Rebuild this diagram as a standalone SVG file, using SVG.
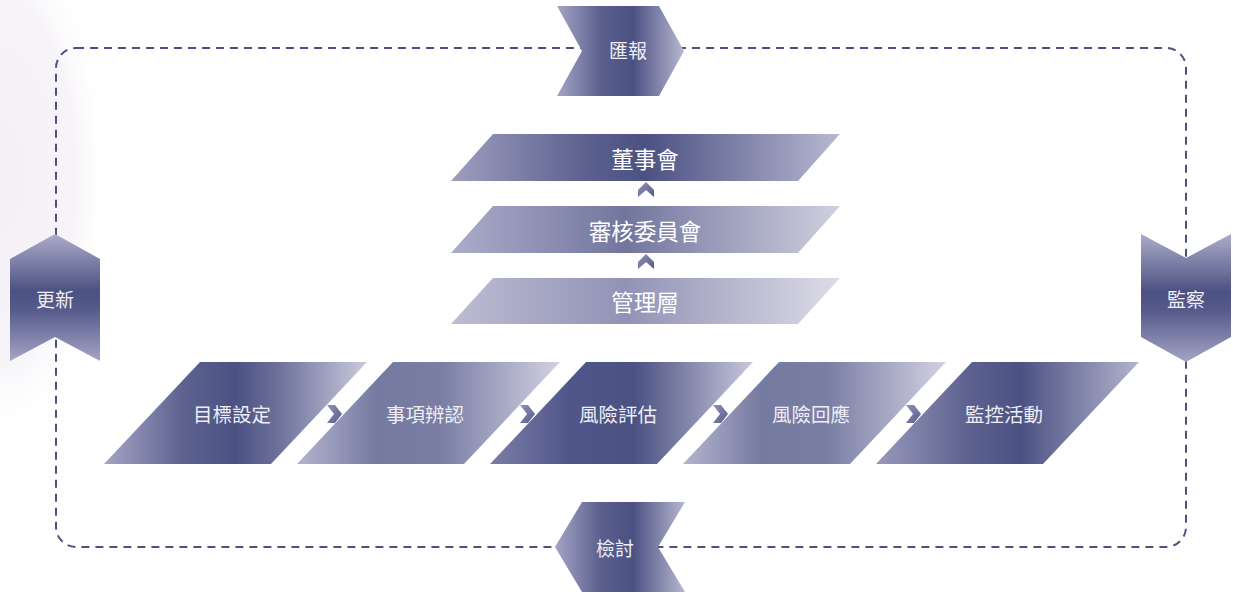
<svg xmlns="http://www.w3.org/2000/svg" width="1233" height="594" viewBox="0 0 1233 594">
<defs>
<radialGradient id="bgL" cx="0" cy="180" r="1" gradientUnits="userSpaceOnUse" gradientTransform="translate(0 180) scale(110 260) translate(0 -180)"><stop offset="0" stop-color="#f4eff5"/><stop offset="0.7" stop-color="#f7f4f8"/><stop offset="1" stop-color="#ffffff" stop-opacity="0"/></radialGradient>
<linearGradient id="gH" x1="0" y1="0" x2="1" y2="0"><stop offset="0" stop-color="#a4a4c6"/><stop offset="0.35" stop-color="#5a5f8d"/><stop offset="0.6" stop-color="#4b5182"/><stop offset="1" stop-color="#b8b8d2"/></linearGradient>
<linearGradient id="gV" x1="0" y1="0" x2="0" y2="1"><stop offset="0" stop-color="#acacca"/><stop offset="0.45" stop-color="#4b5182"/><stop offset="0.6" stop-color="#565b8b"/><stop offset="1" stop-color="#a4a4c6"/></linearGradient>
<linearGradient id="g1" x1="0" y1="0" x2="1" y2="0"><stop offset="0" stop-color="#9e9ec0"/><stop offset="0.35" stop-color="#5b608e"/><stop offset="0.5" stop-color="#4b5182"/><stop offset="1" stop-color="#b8b8d2"/></linearGradient>
<linearGradient id="g2" x1="0" y1="0" x2="1" y2="0"><stop offset="0" stop-color="#acacca"/><stop offset="0.45" stop-color="#72769e"/><stop offset="1" stop-color="#d0d0e0"/></linearGradient>
<linearGradient id="g3" x1="0" y1="0" x2="1" y2="0"><stop offset="0" stop-color="#bcbcd4"/><stop offset="0.45" stop-color="#9292b6"/><stop offset="1" stop-color="#dcdce8"/></linearGradient>
<linearGradient id="b1" x1="0" y1="0" x2="1" y2="0"><stop offset="0" stop-color="#a4a4c4"/><stop offset="0.3" stop-color="#5d628f"/><stop offset="0.5" stop-color="#4b5182"/><stop offset="0.65" stop-color="#6a6e98"/><stop offset="1" stop-color="#cacade"/></linearGradient>
<linearGradient id="b2" x1="0" y1="0" x2="1" y2="0"><stop offset="0" stop-color="#b4b4ce"/><stop offset="0.3" stop-color="#757aa0"/><stop offset="0.55" stop-color="#7a7ea4"/><stop offset="1" stop-color="#d2d2e2"/></linearGradient>
<linearGradient id="b3" x1="0" y1="0" x2="1" y2="0"><stop offset="0" stop-color="#7a7ea4"/><stop offset="0.3" stop-color="#50568a"/><stop offset="0.55" stop-color="#4b5182"/><stop offset="1" stop-color="#c8c8dc"/></linearGradient>
<linearGradient id="b5" x1="0" y1="0" x2="1" y2="0"><stop offset="0" stop-color="#9898bc"/><stop offset="0.35" stop-color="#5d628f"/><stop offset="0.55" stop-color="#4b5182"/><stop offset="1" stop-color="#b4b4ce"/></linearGradient>
<linearGradient id="sm" x1="0" y1="0" x2="1" y2="1"><stop offset="0" stop-color="#9292b8"/><stop offset="1" stop-color="#555b8a"/></linearGradient>
<style>
.t{font-family:"Noto Sans CJK TC","Noto Sans CJK SC",sans-serif;fill:#ffffff;text-anchor:middle;dominant-baseline:central}
.big{font-size:22.5px}
.mid{font-size:19.5px;fill:#eeeef4}
.lp{font-size:19px;fill:#eeeef4}
.dash{fill:none;stroke:#4b5182;stroke-width:2;stroke-dasharray:8 6}
</style>
</defs>
<rect x="0" y="0" width="120" height="460" fill="url(#bgL)"/>
<g id="connectors">
<rect class="dash" x="56" y="48" width="1130" height="499" rx="20" ry="20"/>
<path d="M638,190 L646,182 L654,190 L654,197 L646,190 L638,197 Z" fill="url(#sm)"/>
<path d="M638,262 L646,254 L654,262 L654,269 L646,262 L638,269 Z" fill="url(#sm)"/>
<path d="M327,405 L335,405 L342,414 L335,423 L327,423 L334,414 Z" fill="url(#sm)"/>
<path d="M520,405 L528,405 L535,414 L528,423 L520,423 L527,414 Z" fill="url(#sm)"/>
<path d="M713,405 L721,405 L728,414 L721,423 L713,423 L720,414 Z" fill="url(#sm)"/>
<path d="M906,405 L914,405 L921,414 L914,423 L906,423 L913,414 Z" fill="url(#sm)"/>
</g>
<g id="n-report"><path d="M557,6 L659,6 L684,51 L659,96 L557,96 L582,51 Z" fill="url(#gH)"/><text class="t lp" x="628" y="49">匯報</text></g>
<g id="n-review"><path d="M582,502 L685,502 L658,547 L685,592 L582,592 L555,547 Z" fill="url(#gH)"/><text class="t lp" x="615" y="547">檢討</text></g>
<g id="n-update"><path d="M55,234 L100,259 L100,361 L55,337 L10,361 L10,259 Z" fill="url(#gV)"/><text class="t lp" x="55" y="298">更新</text></g>
<g id="n-monitor"><path d="M1141,234 L1186,258 L1231,234 L1231,337 L1186,362 L1141,337 Z" fill="url(#gV)"/><text class="t lp" x="1186" y="298">監察</text></g>
<g id="n-board"><path d="M493,134 L840,134 L798,181 L451,181 Z" fill="url(#g1)"/><text class="t big" x="645" y="158">董事會</text></g>
<g id="n-audit"><path d="M493,206 L840,206 L798,253 L451,253 Z" fill="url(#g2)"/><text class="t big" x="645" y="230">審核委員會</text></g>
<g id="n-mgmt"><path d="M493,278 L840,278 L798,324 L451,324 Z" fill="url(#g3)"/><text class="t big" x="645" y="301">管理層</text></g>
<g id="n-s1"><path d="M200,362 L367,362 L271,464 L104,464 Z" fill="url(#b1)"/><text class="t mid" x="232" y="413">目標設定</text></g>
<g id="n-s2"><path d="M393,362 L560,362 L464,464 L297,464 Z" fill="url(#b2)"/><text class="t mid" x="425" y="413">事項辨認</text></g>
<g id="n-s3"><path d="M586,362 L753,362 L657,464 L490,464 Z" fill="url(#b3)"/><text class="t mid" x="618" y="413">風險評估</text></g>
<g id="n-s4"><path d="M779,362 L946,362 L850,464 L683,464 Z" fill="url(#b2)"/><text class="t mid" x="811" y="413">風險回應</text></g>
<g id="n-s5"><path d="M972,362 L1139,362 L1043,464 L876,464 Z" fill="url(#b5)"/><text class="t mid" x="1004" y="413">監控活動</text></g>
</svg>
